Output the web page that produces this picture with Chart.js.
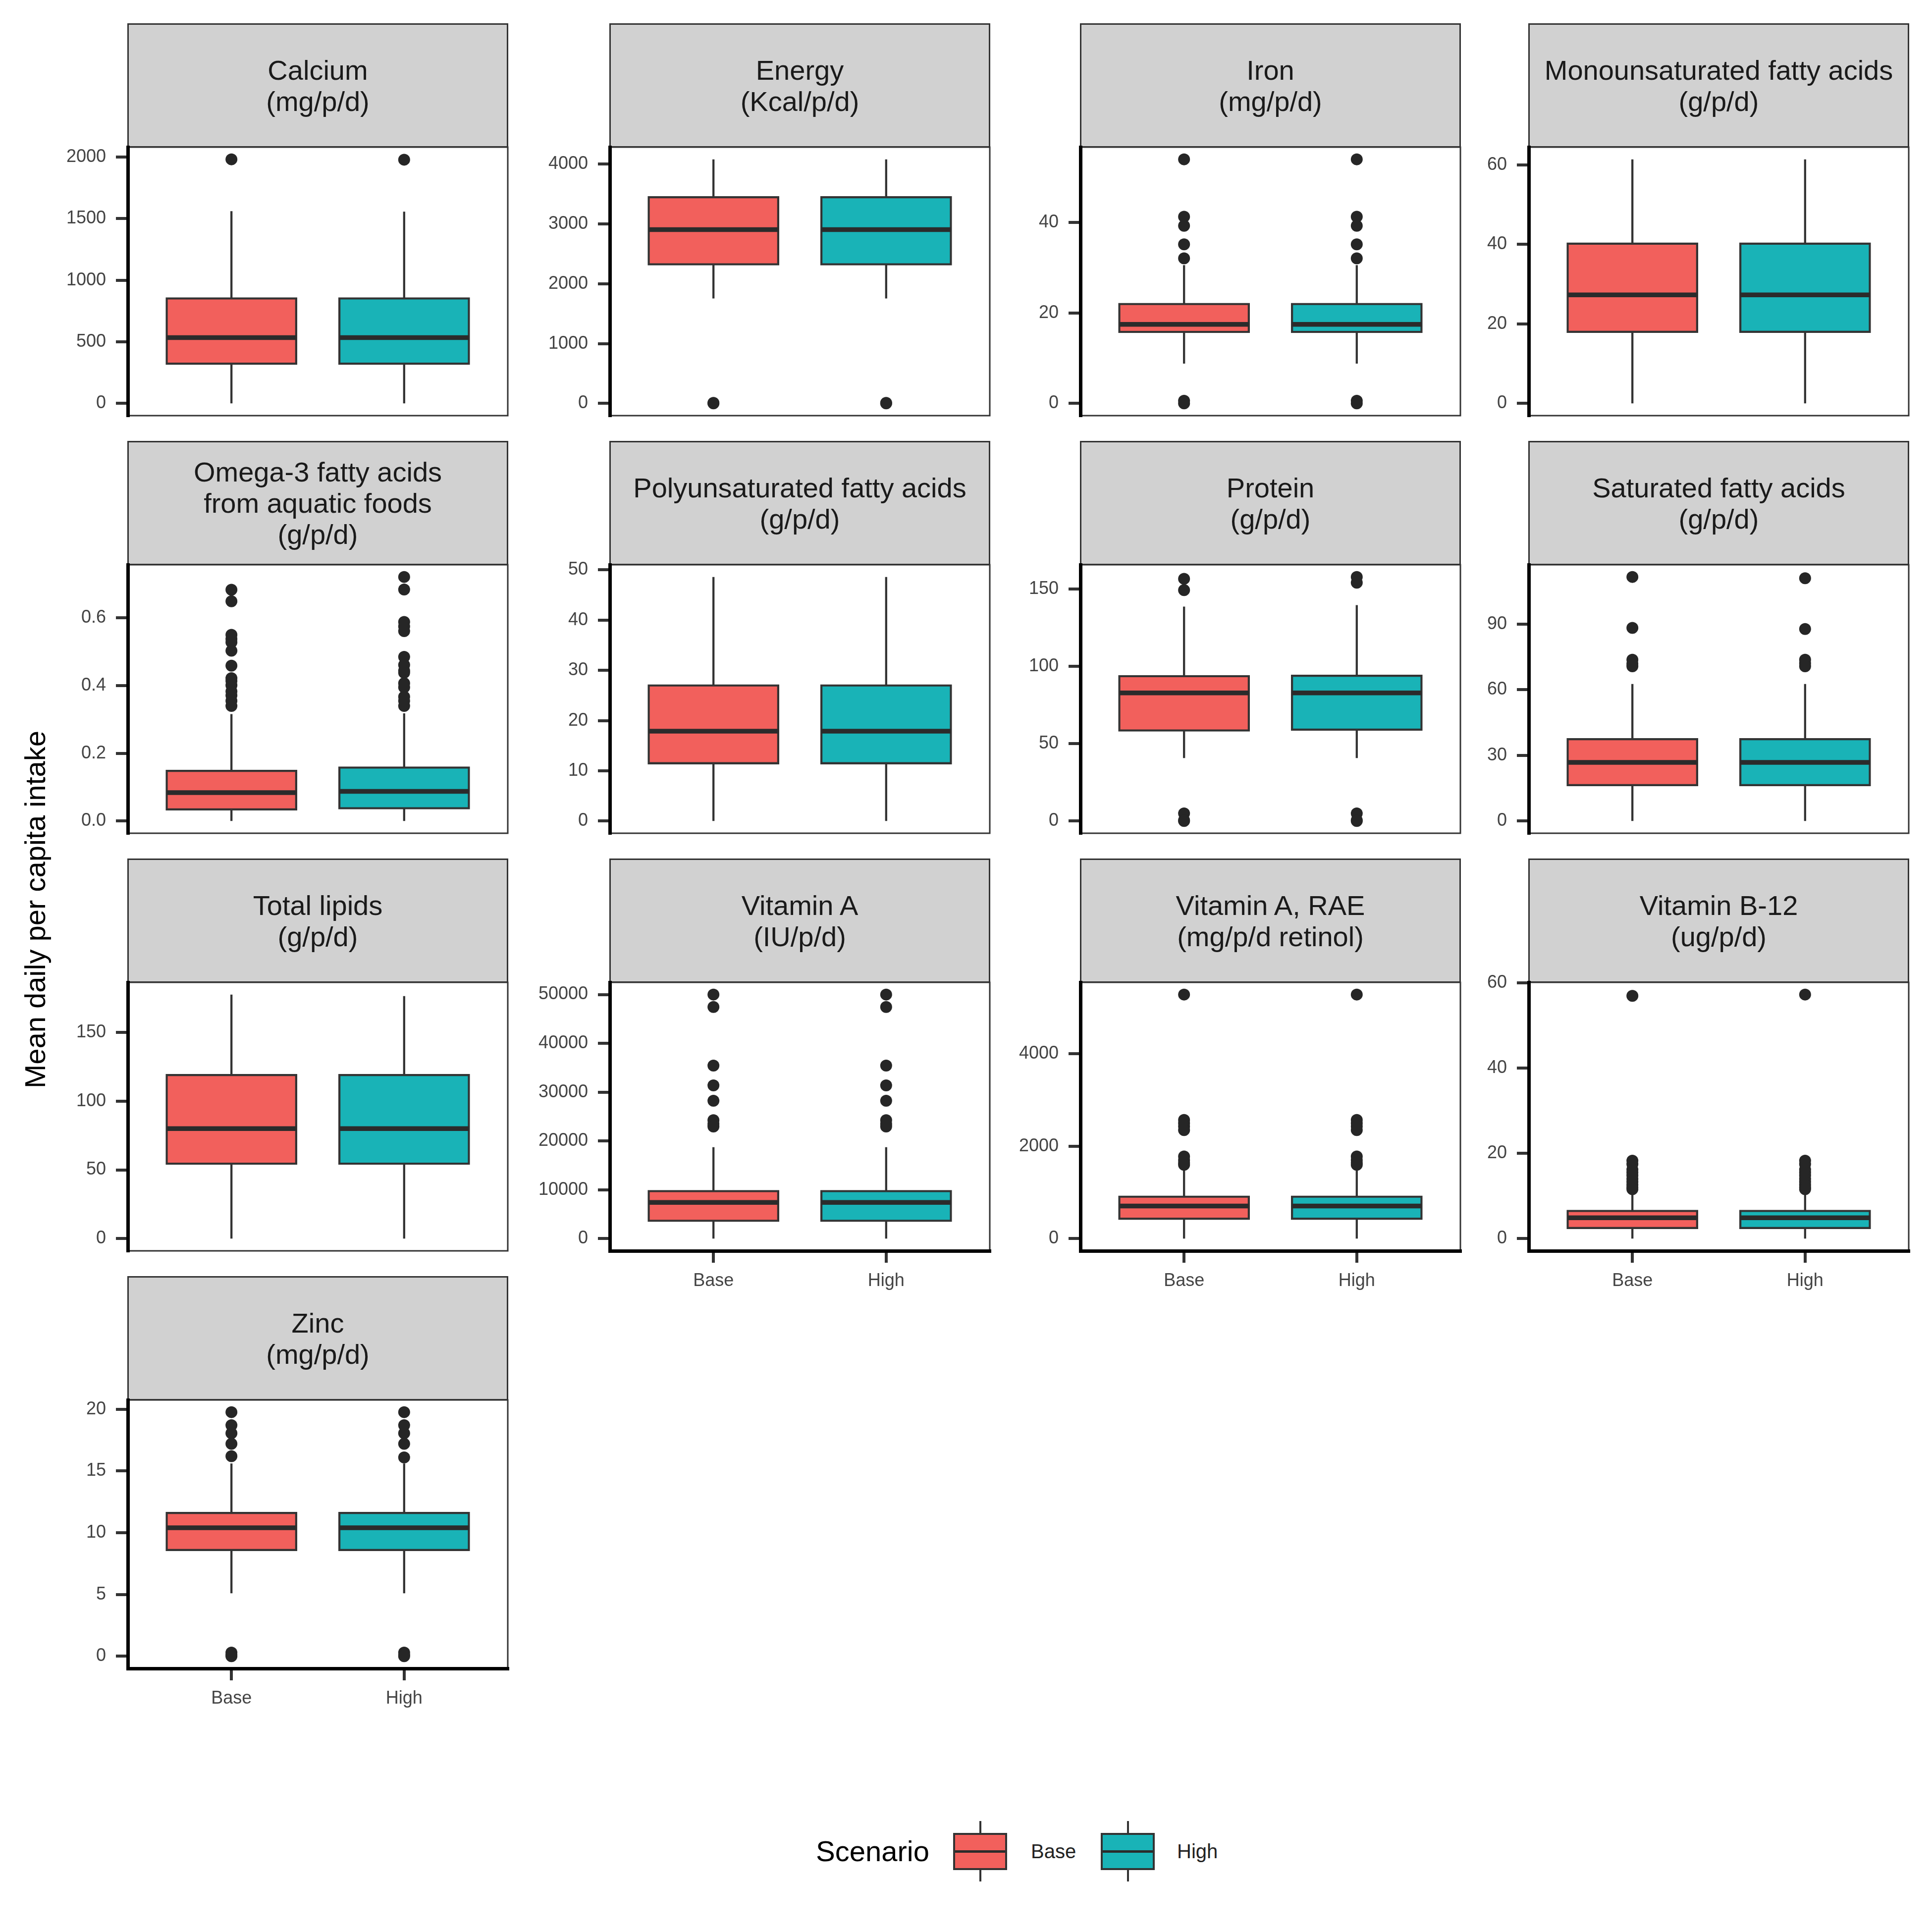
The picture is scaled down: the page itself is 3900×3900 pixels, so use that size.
<!DOCTYPE html>
<html>
<head>
<meta charset="utf-8">
<script src="https://cdn.jsdelivr.net/npm/chart.js@4.4.1/dist/chart.umd.min.js"></script>
<style>
  html, body { margin: 0; padding: 0; background: #ffffff; }
  #root { position: relative; width: 3900px; height: 3900px; overflow: hidden;
          font-family: "Liberation Sans", Arial, sans-serif; background: #ffffff; }
  .strip { position: absolute; box-sizing: border-box; background: #D1D1D1; border: 3px solid #333333;
           display: flex; align-items: center; justify-content: center; text-align: center;
           white-space: pre-line; font-size: 56px; line-height: 63px; color: #1a1a1a; z-index: 1; }
  canvas { position: absolute; z-index: 2; }
  #ytitle { position: absolute; left: 70px; top: 1836px; transform: translate(-50%, -50%) rotate(-90deg);
            font-size: 58px; white-space: nowrap; color: #000; }
  .lg { position: absolute; }
</style>
</head>
<body>
<div id="root"></div>
<script>
// ---------------- data ----------------
const scenarios = ["Base", "High"];
const nutrients = ["Calcium", "Energy", "Iron", "Monounsaturated fatty acids",
  "Omega-3 fatty acids\nfrom aquatic foods", "Polyunsaturated fatty acids", "Protein", "Saturated fatty acids",
  "Total lipids", "Vitamin A", "Vitamin A, RAE", "Vitamin B-12", "Zinc"];
const units = ["(mg/p/d)", "(Kcal/p/d)", "(mg/p/d)", "(g/p/d)", "(g/p/d)", "(g/p/d)", "(g/p/d)", "(g/p/d)",
  "(g/p/d)", "(IU/p/d)", "(mg/p/d retinol)", "(ug/p/d)", "(mg/p/d)"];

// per scenario: [lower whisker, Q1, median, Q3, upper whisker]
const calciumStats = [[0, 322, 534, 852, 1560], [0, 322, 534, 852, 1556]];
const calciumOutliers = [[1981], [1978]];
const calciumTicks = ["0", "500", "1000", "1500", "2000"];

const energyStats = [[1755, 2326, 2907, 3447, 4081], [1755, 2326, 2907, 3447, 4081]];
const energyOutliers = [[0, 10], [0, 10]];
const energyTicks = ["0", "1000", "2000", "3000", "4000"];

const ironStats = [[8.8, 15.8, 17.5, 22.0, 30.6], [8.8, 15.8, 17.5, 22.0, 30.6]];
const ironOutliers = [[54.0, 41.3, 39.3, 35.2, 32.1, 0.6, 0], [54.0, 41.3, 39.3, 35.2, 32.1, 0.6, 0]];
const ironTicks = ["0", "20", "40"];

const monoStats = [[0, 18.0, 27.3, 40.2, 61.4], [0, 18.0, 27.3, 40.2, 61.4]];
const monoOutliers = [[], []];
const monoTicks = ["0", "20", "40", "60"];

const omegaStats = [[0, 0.0344, 0.0838, 0.148, 0.316], [0, 0.0376, 0.0877, 0.158, 0.318]];
const omegaOutliers = [
  [0.683, 0.649, 0.550, 0.538, 0.528, 0.503, 0.459, 0.422, 0.414, 0.401, 0.383, 0.371, 0.355, 0.340],
  [0.721, 0.684, 0.588, 0.575, 0.561, 0.485, 0.461, 0.444, 0.438, 0.407, 0.395, 0.367, 0.355, 0.340]];
const omegaTicks = ["0.0", "0.2", "0.4", "0.6"];

const polyStats = [[0, 11.5, 17.9, 27.0, 48.6], [0, 11.5, 17.9, 27.0, 48.6]];
const polyOutliers = [[], []];
const polyTicks = ["0", "10", "20", "30", "40", "50"];

const proteinStats = [[40.7, 58.5, 82.8, 93.7, 138.6], [40.7, 59.1, 82.8, 93.9, 139.6]];
const proteinOutliers = [[156.6, 149.3, 4.9, 0.5, 0], [157.8, 154.1, 4.9, 0.5, 0]];
const proteinTicks = ["0", "50", "100", "150"];

const saturatedStats = [[0, 16.4, 26.8, 37.4, 62.6], [0, 16.4, 26.8, 37.4, 62.6]];
const saturatedOutliers = [[111.5, 88.2, 73.7, 71.9, 70.7], [110.9, 87.7, 73.7, 72.1, 70.7]];
const saturatedTicks = ["0", "30", "60", "90"];

const lipidsStats = [[0, 54.5, 80.0, 119.0, 177.5], [0, 54.5, 80.0, 119.0, 176.4]];
const lipidsOutliers = [[], []];
const lipidsTicks = ["0", "50", "100", "150"];

const vitAStats = [[0, 3654, 7425, 9745, 18740], [0, 3654, 7425, 9745, 18740]];
const vitAOutliers = [[49990, 47450, 35440, 31380, 28250, 24250, 23500, 22970],
                      [49990, 47450, 35440, 31380, 28250, 24250, 23500, 22970]];
const vitATicks = ["0", "10000", "20000", "30000", "40000", "50000"];

const vitARaeStats = [[0, 430, 707, 909, 1493], [0, 430, 707, 909, 1493]];
const vitARaeOutliers = [[5284, 2570, 2500, 2430, 2350, 1780, 1700, 1640, 1600],
                         [5284, 2570, 2500, 2430, 2350, 1780, 1700, 1640, 1600]];
const vitARaeTicks = ["0", "2000", "4000"];

const b12Stats = [[0, 2.5, 4.9, 6.5, 11.2], [0, 2.5, 4.9, 6.5, 11.2]];
const b12Outliers = [[57.0, 18.3, 17.5, 16.2, 15.5, 14.8, 14.0, 13.3, 12.6, 12.0, 11.6],
                     [57.3, 18.3, 17.5, 16.2, 15.5, 14.8, 14.0, 13.3, 12.6, 12.0, 11.6]];
const b12Ticks = ["0", "20", "40", "60"];

const zincStats = [[5.1, 8.6, 10.4, 11.6, 15.6], [5.1, 8.6, 10.4, 11.6, 15.6]];
const zincOutliers = [[19.76, 18.7, 18.05, 17.2, 16.2, 0.3, 0.1, 0], [19.76, 18.7, 18.05, 17.2, 16.1, 0.3, 0.1, 0]];
const zincTicks = ["0", "5", "10", "15", "20"];

const statsList = [calciumStats, energyStats, ironStats, monoStats, omegaStats, polyStats, proteinStats,
  saturatedStats, lipidsStats, vitAStats, vitARaeStats, b12Stats, zincStats];
const outlierList = [calciumOutliers, energyOutliers, ironOutliers, monoOutliers, omegaOutliers, polyOutliers,
  proteinOutliers, saturatedOutliers, lipidsOutliers, vitAOutliers, vitARaeOutliers, b12Outliers, zincOutliers];
const tickList = [calciumTicks, energyTicks, ironTicks, monoTicks, omegaTicks, polyTicks, proteinTicks,
  saturatedTicks, lipidsTicks, vitATicks, vitARaeTicks, b12Ticks, zincTicks];

// ---------------- layout & style ----------------
const FONT = '"Liberation Sans", Arial, sans-serif';
Chart.defaults.font.family = FONT;
const fills = ["#F2605C", "#19B3B7"];
const colLeft = [258, 1231, 2181, 3086];
const rowTop = [47, 890, 1733, 2576];
const panelW = 767, stripH = 250, plotH = 542;
const ML = 200, MR = 20, MT = 80;
const BOXW = 0.75;
const root = document.getElementById('root');

const panelFrame = {
  id: 'panelFrame',
  beforeDraw(chart) {
    const {ctx, chartArea: a} = chart;
    ctx.save();
    ctx.fillStyle = '#ffffff';
    ctx.fillRect(a.left, a.top, a.right - a.left, a.bottom - a.top);
    ctx.strokeStyle = '#333333';
    ctx.lineWidth = 3;
    ctx.strokeRect(a.left, a.top, a.right - a.left, a.bottom - a.top);
    ctx.restore();
  }
};

function axisStyle() {
  return {
    grid: { display: true, drawOnChartArea: false, drawTicks: true, tickLength: 24, tickWidth: 6,
            tickColor: '#333333', lineWidth: 6, color: '#333333', offset: false },
    border: { display: true, color: '#000000', width: 7 }
  };
}

nutrients.forEach((name, i) => {
  const r = Math.floor(i / 4), c = i % 4;
  const hasX = i + 4 >= nutrients.length;
  const left = colLeft[c];
  const plotTop = rowTop[r] + stripH;

  const strip = document.createElement('div');
  strip.className = 'strip';
  strip.style.left = (left - 1) + 'px';
  strip.style.top = rowTop[r] + 'px';
  strip.style.width = (panelW + 2) + 'px';
  strip.style.height = (stripH + 1) + 'px';
  strip.textContent = name + '\n' + units[i];
  root.appendChild(strip);

  const MB = hasX ? 110 : 80;
  const cv = document.createElement('canvas');
  cv.width = ML + panelW + MR;
  cv.height = MT + plotH + MB;
  cv.style.left = (left - ML) + 'px';
  cv.style.top = (plotTop - MT) + 'px';
  cv.style.width = cv.width + 'px';
  cv.style.height = cv.height + 'px';
  root.appendChild(cv);

  const stats = statsList[i], outs = outlierList[i], tickLabels = tickList[i];
  const tickVals = tickLabels.map(Number);
  const all = stats.flat().concat(outs.flat());
  const lo = Math.min(...all), hi = Math.max(...all), pad = 0.05 * (hi - lo);

  const boxData = scenarios.map((s, k) => ({x: k + 1, y: [stats[k][1], stats[k][3]]}));
  const whiskerData = [];
  const medianData = [];
  const pointData = [];
  scenarios.forEach((s, k) => {
    whiskerData.push({x: k + 1, y: stats[k][0]}, {x: k + 1, y: stats[k][4]}, {x: k + 1.5, y: null});
    medianData.push({x: k + 1 - BOXW / 2, y: stats[k][2]}, {x: k + 1 + BOXW / 2, y: stats[k][2]}, {x: k + 1.5, y: null});
    outs[k].forEach(v => pointData.push({x: k + 1, y: v}));
  });

  const xs = axisStyle();
  const ys = axisStyle();

  new Chart(cv, {
    type: 'bar',
    data: {
      datasets: [
        { type: 'scatter', data: pointData, order: 0, pointRadius: 12, pointHoverRadius: 12,
          pointBackgroundColor: '#262626', pointBorderWidth: 0, borderWidth: 0 },
        { type: 'line', data: medianData, order: 1, borderColor: '#2b2b2b', borderWidth: 9.5,
          pointRadius: 0, spanGaps: false, tension: 0, borderCapStyle: 'butt', fill: false },
        { type: 'bar', data: boxData, order: 2, backgroundColor: fills, borderColor: '#333333',
          borderWidth: 4.3, borderSkipped: false, inflateAmount: 2.15,
          barPercentage: BOXW, categoryPercentage: 1 },
        { type: 'line', data: whiskerData, order: 3, borderColor: '#333333', borderWidth: 4.3,
          pointRadius: 0, spanGaps: false, tension: 0, borderCapStyle: 'butt', fill: false }
      ]
    },
    options: {
      responsive: false,
      animation: false,
      devicePixelRatio: 1,
      events: [],
      layout: { padding: { left: 0, right: MR, top: MT, bottom: hasX ? 10 : MB } },
      plugins: { legend: { display: false }, tooltip: { enabled: false } },
      scales: {
        x: {
          type: 'linear', min: 0.4, max: 2.6, offset: false, bounds: 'data', display: hasX,
          afterBuildTicks: s => { s.ticks = scenarios.map((n, k) => ({value: k + 1})); },
          afterFit: s => { s.height = hasX ? 100 : 0; },
          ticks: { callback: (v, idx) => scenarios[idx], font: {size: 36, family: FONT}, color: '#444444',
                   padding: 15, maxRotation: 0, minRotation: 0, autoSkip: false },
          grid: xs.grid, border: xs.border
        },
        y: {
          type: 'linear', min: lo - pad, max: hi + pad, offset: false, bounds: 'data', beginAtZero: false,
          afterBuildTicks: s => { s.ticks = tickVals.map(v => ({value: v})); },
          afterFit: s => { s.width = ML; },
          ticks: { callback: (v, idx) => tickLabels[idx], font: {size: 36, family: FONT}, color: '#444444',
                   padding: 20, autoSkip: false },
          grid: ys.grid, border: ys.border
        }
      }
    },
    plugins: [panelFrame]
  });
});

// ---------------- axis title ----------------
const yt = document.createElement('div');
yt.id = 'ytitle';
yt.textContent = 'Mean daily per capita intake';
root.appendChild(yt);

// ---------------- legend ----------------
const legendCenterY = 3737;
const title = document.createElement('div');
title.className = 'lg';
title.style.cssText = `left:1647px; top:${legendCenterY - 35}px; font-size:58px; line-height:70px; color:#000;`;
title.textContent = 'Scenario';
root.appendChild(title);

const keyLeft = [1924, 2222];
const labelLeft = [2081, 2376];
const keyW = 109, keyH = 75;
scenarios.forEach((s, k) => {
  const cx = keyLeft[k] + keyW / 2;
  const wh = document.createElement('div');
  wh.className = 'lg';
  wh.style.cssText = `left:${cx - 2}px; top:${legendCenterY - 61}px; width:4px; height:122px; background:#333;`;
  root.appendChild(wh);
  const box = document.createElement('div');
  box.className = 'lg';
  box.style.cssText = `left:${keyLeft[k]}px; top:${legendCenterY - keyH / 2}px; width:${keyW}px; height:${keyH}px;
    box-sizing:border-box; border:4px solid #333; background:${fills[k]};`;
  const med = document.createElement('div');
  med.style.cssText = `position:absolute; left:0; right:0; top:${keyH / 2 - 4 - 2.5}px; height:5px; background:#2b2b2b;`;
  box.appendChild(med);
  root.appendChild(box);
  const lab = document.createElement('div');
  lab.className = 'lg';
  lab.style.cssText = `left:${labelLeft[k]}px; top:${legendCenterY - 25}px; font-size:40px; line-height:50px; color:#222;`;
  lab.textContent = s;
  root.appendChild(lab);
});
</script>
</body>
</html>
